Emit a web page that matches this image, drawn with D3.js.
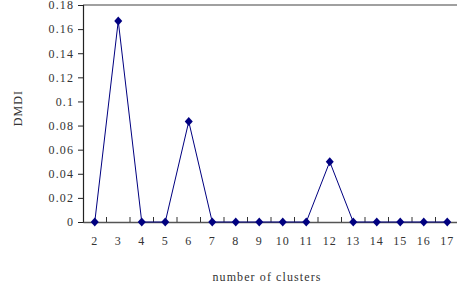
<!DOCTYPE html>
<html><head><meta charset="utf-8">
<script src="https://cdn.jsdelivr.net/npm/d3@7/dist/d3.min.js"></script>
<style>body{margin:0;background:#fff}svg{display:block}</style>
</head><body>
<script>
const categories = ["2","3","4","5","6","7","8","9","10","11","12","13","14","15","16","17"];
const values = [0, 0.1667, 0, 0, 0.0833, 0, 0, 0, 0, 0, 0.05, 0, 0, 0, 0, 0];
const yTicks = [0, 0.02, 0.04, 0.06, 0.08, 0.1, 0.12, 0.14, 0.16, 0.18];
const xTitle = "number of clusters";
const yTitle = "DMDI";

const W = 457, H = 289;
const m = {left: 83, top: 5, right: -2, bottom: 67};
const svg = d3.select("body").append("svg").attr("width", W).attr("height", H);
const font = "'Liberation Serif', serif";
const fs = "12px";
const ls = "1.1px";

const x = d3.scaleBand().domain(categories).range([m.left, W - m.right]);
const y = d3.scaleLinear().domain([0, 0.18]).range([H - m.bottom, m.top]);

// top border
svg.append("line").attr("x1", m.left).attr("x2", W).attr("y1", y(0.18)).attr("y2", y(0.18))
  .attr("stroke", "#808080").attr("stroke-width", 1.5);

// y axis
const yAxis = svg.append("g").attr("transform", `translate(${m.left},0)`)
  .call(d3.axisLeft(y).tickValues(yTicks).tickSize(5).tickPadding(4).tickFormat(d => d3.format("")(+d.toFixed(2))));
yAxis.select(".domain").attr("stroke", "#222").attr("stroke-width", 1.2);
yAxis.selectAll(".tick line").attr("stroke", "#222");
yAxis.selectAll("text").attr("font-family", font).attr("font-size", fs).attr("letter-spacing", ls).attr("fill", "#333");

// x axis
const xAxis = svg.append("g").attr("transform", `translate(0,${y(0)})`)
  .call(d3.axisBottom(x).tickSize(0).tickPadding(14));
xAxis.select(".domain").attr("stroke", "#555").attr("stroke-width", 1.5);
xAxis.selectAll("text").attr("font-family", font).attr("font-size", fs).attr("letter-spacing", ls).attr("fill", "#333");
// boundary ticks (pointing up)
const bounds = categories.slice(1).map(c => x(c));
svg.append("g").selectAll("line").data(bounds).join("line")
  .attr("x1", d => d).attr("x2", d => d).attr("y1", y(0) - 5).attr("y2", y(0))
  .attr("stroke", "#333").attr("stroke-width", 1);

// line
const cx = c => x(c) + x.bandwidth() / 2;
const pts = categories.map((c, i) => [cx(c), y(values[i])]);
svg.append("path").attr("d", d3.line()(pts)).attr("fill", "none")
  .attr("stroke", "#000080").attr("stroke-width", 1);
svg.append("g").selectAll("path").data(pts).join("path")
  .attr("transform", d => `translate(${d[0]},${d[1]})`)
  .attr("d", "M0,-4.5L4,0L0,4.5L-4,0Z").attr("fill", "#000080");

// titles
svg.append("text").attr("x", 267).attr("y", 281).attr("text-anchor", "middle")
  .attr("font-family", font).attr("font-size", fs).attr("letter-spacing", ls).attr("fill", "#333").text(xTitle);
svg.append("text").attr("transform", `translate(22,${108}) rotate(-90)`).attr("text-anchor", "middle")
  .attr("font-family", font).attr("font-size", fs).attr("letter-spacing", ls).attr("fill", "#333").text(yTitle);
</script>
</body></html>
